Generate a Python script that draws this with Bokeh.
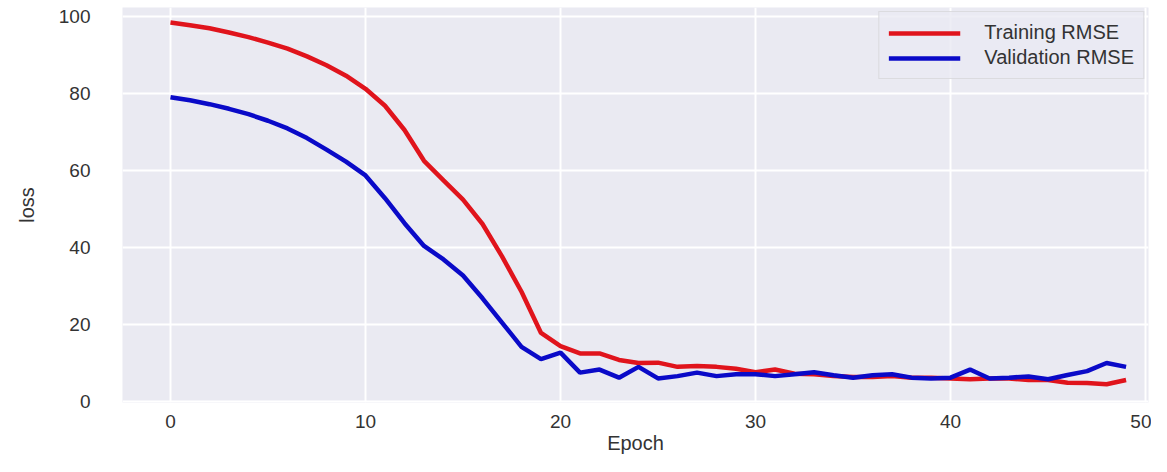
from bokeh.plotting import figure
from bokeh.models import FixedTicker, Range1d, Legend, LegendItem, ColumnDataSource
from bokeh.embed import file_html
from bokeh.resources import INLINE

epochs = list(range(50))
training_rmse = [98.4, 97.7, 96.9, 95.8, 94.6, 93.2, 91.6, 89.6, 87.3, 84.6,
                 81.2, 76.8, 70.5, 62.5, 57.4, 52.4, 46.1, 37.7, 28.5, 17.8,
                 14.4, 12.5, 12.5, 10.8, 10.0, 10.1, 9.0, 9.2, 9.0, 8.5,
                 7.6, 8.3, 7.2, 7.1, 6.6, 6.4, 6.4, 6.6, 6.2, 6.2,
                 6.0, 5.8, 6.0, 6.0, 5.6, 5.6, 4.9, 4.8, 4.5, 5.6]
validation_rmse = [79.0, 78.2, 77.2, 76.0, 74.6, 72.9, 70.9, 68.4, 65.4, 62.3,
                   58.7, 52.8, 46.3, 40.4, 36.9, 32.7, 26.8, 20.5, 14.2, 11.0,
                   12.7, 7.5, 8.3, 6.2, 9.0, 6.0, 6.6, 7.5, 6.6, 7.1,
                   7.1, 6.6, 7.1, 7.6, 6.8, 6.2, 6.8, 7.1, 6.2, 6.0,
                   6.2, 8.3, 6.0, 6.2, 6.5, 5.8, 6.9, 7.9, 10.0, 9.0]
x_ticks = [0, 10, 20, 30, 40, 50]
y_ticks = [0, 20, 40, 60, 80, 100]
series_names = ["Training RMSE", "Validation RMSE"]

FONT = "Liberation Sans"
TXT = "#333333"

p = figure(width=1151, height=456, output_backend="svg", toolbar_location=None,
           x_range=Range1d(-2.46, 50.15), y_range=Range1d(-0.25, 102.3),
           min_border_left=122, min_border_right=3, min_border_top=7,
           min_border_bottom=48)
p.background_fill_color = "#EAEAF2"
p.border_fill_color = "white"
p.outline_line_color = None

for ax in (p.xaxis[0], p.yaxis[0]):
    ax.axis_line_color = None
    ax.major_tick_line_color = None
    ax.minor_tick_line_color = None
    ax.major_label_text_font = FONT
    ax.major_label_text_color = TXT
    ax.major_label_text_font_size = "19px"
    ax.axis_label_text_font = FONT
    ax.axis_label_text_color = TXT
    ax.axis_label_text_font_size = "20px"
    ax.axis_label_text_font_style = "normal"

p.xaxis.ticker = FixedTicker(ticks=x_ticks)
p.yaxis.ticker = FixedTicker(ticks=y_ticks)
p.xaxis.axis_label = "Epoch"
p.yaxis.axis_label = "loss"
p.xaxis.major_label_standoff = 6
p.xaxis.axis_label_standoff = 1
p.yaxis.major_label_standoff = 26
p.yaxis.axis_label_standoff = 18

p.xgrid.ticker = FixedTicker(ticks=x_ticks)
p.ygrid.ticker = FixedTicker(ticks=y_ticks)
p.grid.grid_line_color = "white"
p.grid.grid_line_width = 2

src = ColumnDataSource(dict(x=epochs, tr=training_rmse, va=validation_rmse))
r1 = p.line("x", "tr", source=src, line_color="#e0141c", line_width=4.5)
r2 = p.line("x", "va", source=src, line_color="#0a0ac8", line_width=4.5)

legend = Legend(items=[LegendItem(label=series_names[0], renderers=[r1]),
                       LegendItem(label=series_names[1], renderers=[r2])],
                location="top_right")
legend.margin = 4
legend.padding = 9
legend.spacing = 2
legend.glyph_width = 72
legend.glyph_height = 22
legend.label_height = 22
legend.label_standoff = 24
legend.label_text_font = FONT
legend.label_text_font_size = "20px"
legend.label_text_color = TXT
legend.background_fill_color = "#EAEAF2"
legend.background_fill_alpha = 0.8
legend.border_line_color = "#cccccc"
legend.border_line_width = 1
p.add_layout(legend)

open("out.html", "w").write(file_html(p, INLINE))
